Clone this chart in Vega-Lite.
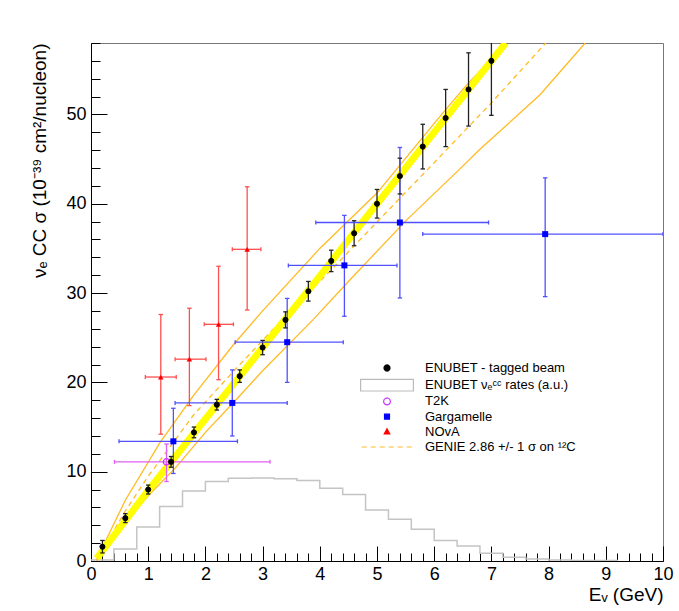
{
  "$schema": "https://vega.github.io/schema/vega-lite/v6.json",
  "width": 572,
  "height": 518,
  "autosize": {"type": "none"},
  "padding": {"left": 91, "top": 43, "right": 16, "bottom": 50},
  "background": "white",
  "config": {"view": {"stroke": "#777777", "strokeWidth": 1}, "font": "Liberation Sans"},
  "resolve": {"axis": {"x": "independent", "y": "independent"}},
  "datasets": {
    "hist": [
      {"x": 0, "y": 0.1}, {"x": 0.4, "y": 1.35}, {"x": 0.8, "y": 3.8}, {"x": 1.2, "y": 6.1},
      {"x": 1.6, "y": 7.85}, {"x": 2.0, "y": 8.9}, {"x": 2.4, "y": 9.27}, {"x": 2.8, "y": 9.3},
      {"x": 3.2, "y": 9.2}, {"x": 3.6, "y": 9.0}, {"x": 4.0, "y": 8.15}, {"x": 4.4, "y": 7.45},
      {"x": 4.8, "y": 5.7}, {"x": 5.2, "y": 4.67}, {"x": 5.6, "y": 3.55}, {"x": 6.0, "y": 2.3},
      {"x": 6.4, "y": 1.68}, {"x": 6.8, "y": 0.86}, {"x": 7.2, "y": 0.41}, {"x": 7.6, "y": 0.22},
      {"x": 8.0, "y": 0.12}, {"x": 8.4, "y": 0.06}, {"x": 8.8, "y": 0.05}, {"x": 9.2, "y": 0}
    ],
    "curves": [
      {"c": "band", "x": 0.1, "y": 0.3}, {"c": "band", "x": 1.0, "y": 7.9}, {"c": "band", "x": 2.0, "y": 15.9},
      {"c": "band", "x": 3.0, "y": 23.9}, {"c": "band", "x": 4.0, "y": 31.9}, {"c": "band", "x": 5.0, "y": 40.0},
      {"c": "band", "x": 6.0, "y": 48.0}, {"c": "band", "x": 7.0, "y": 56.0}, {"c": "band", "x": 7.25, "y": 58.0},
      {"c": "up", "x": 0.1, "y": 0.2}, {"c": "up", "x": 0.6, "y": 6.8}, {"c": "up", "x": 1.2, "y": 13.2},
      {"c": "up", "x": 1.8, "y": 18.6}, {"c": "up", "x": 2.5, "y": 24.3}, {"c": "up", "x": 3.0, "y": 28.0},
      {"c": "up", "x": 4.0, "y": 35.0}, {"c": "up", "x": 5.0, "y": 41.2}, {"c": "up", "x": 6.0, "y": 49.0},
      {"c": "up", "x": 6.5, "y": 52.8}, {"c": "up", "x": 7.25, "y": 58.0},
      {"c": "mid", "x": 0.1, "y": 0.1}, {"c": "mid", "x": 0.6, "y": 5.6}, {"c": "mid", "x": 1.0, "y": 9.5},
      {"c": "mid", "x": 1.8, "y": 16.4}, {"c": "mid", "x": 2.5, "y": 21.3}, {"c": "mid", "x": 3.0, "y": 24.7},
      {"c": "mid", "x": 3.5, "y": 28.1}, {"c": "mid", "x": 4.2, "y": 32.6}, {"c": "mid", "x": 5.05, "y": 38.3},
      {"c": "mid", "x": 6.0, "y": 44.6}, {"c": "mid", "x": 7.0, "y": 51.3}, {"c": "mid", "x": 7.95, "y": 58.0},
      {"c": "lo", "x": 0.1, "y": 0.0}, {"c": "lo", "x": 0.6, "y": 4.2}, {"c": "lo", "x": 1.0, "y": 7.3},
      {"c": "lo", "x": 1.5, "y": 10.6}, {"c": "lo", "x": 2.0, "y": 14.4}, {"c": "lo", "x": 2.5, "y": 17.8},
      {"c": "lo", "x": 3.0, "y": 21.3}, {"c": "lo", "x": 3.88, "y": 27.0}, {"c": "lo", "x": 4.5, "y": 31.3},
      {"c": "lo", "x": 5.52, "y": 38.2}, {"c": "lo", "x": 6.4, "y": 43.6}, {"c": "lo", "x": 6.8, "y": 46.1},
      {"c": "lo", "x": 7.85, "y": 52.2}, {"c": "lo", "x": 8.64, "y": 58.0}
    ],
    "exp": [
      {"s": "ENUBET - tagged beam", "x": 0.2, "y": 1.6, "ylo": 0.9, "yhi": 2.3},
      {"s": "ENUBET - tagged beam", "x": 0.6, "y": 4.8, "ylo": 4.3, "yhi": 5.3},
      {"s": "ENUBET - tagged beam", "x": 1.0, "y": 8.0, "ylo": 7.5, "yhi": 8.5},
      {"s": "ENUBET - tagged beam", "x": 1.4, "y": 11.1, "ylo": 10.5, "yhi": 11.7},
      {"s": "ENUBET - tagged beam", "x": 1.8, "y": 14.4, "ylo": 13.8, "yhi": 15.0},
      {"s": "ENUBET - tagged beam", "x": 2.2, "y": 17.5, "ylo": 16.9, "yhi": 18.1},
      {"s": "ENUBET - tagged beam", "x": 2.6, "y": 20.7, "ylo": 20.0, "yhi": 21.4},
      {"s": "ENUBET - tagged beam", "x": 3.0, "y": 23.9, "ylo": 23.1, "yhi": 24.7},
      {"s": "ENUBET - tagged beam", "x": 3.4, "y": 27.0, "ylo": 26.1, "yhi": 27.9},
      {"s": "ENUBET - tagged beam", "x": 3.8, "y": 30.2, "ylo": 29.1, "yhi": 31.3},
      {"s": "ENUBET - tagged beam", "x": 4.2, "y": 33.6, "ylo": 32.4, "yhi": 34.8},
      {"s": "ENUBET - tagged beam", "x": 4.6, "y": 36.7, "ylo": 35.3, "yhi": 38.1},
      {"s": "ENUBET - tagged beam", "x": 5.0, "y": 40.0, "ylo": 38.4, "yhi": 41.6},
      {"s": "ENUBET - tagged beam", "x": 5.4, "y": 43.1, "ylo": 41.1, "yhi": 45.1},
      {"s": "ENUBET - tagged beam", "x": 5.8, "y": 46.4, "ylo": 43.9, "yhi": 48.9},
      {"s": "ENUBET - tagged beam", "x": 6.2, "y": 49.6, "ylo": 46.4, "yhi": 52.8},
      {"s": "ENUBET - tagged beam", "x": 6.6, "y": 52.8, "ylo": 48.7, "yhi": 56.9},
      {"s": "ENUBET - tagged beam", "x": 7.0, "y": 56.0, "ylo": 49.9, "yhi": 62.1},
      {"s": "Gargamelle", "x": 1.44, "y": 13.4, "xlo": 0.49, "xhi": 2.56, "ylo": 9.8, "yhi": 17.1},
      {"s": "Gargamelle", "x": 2.47, "y": 17.7, "xlo": 1.47, "xhi": 3.43, "ylo": 14.0, "yhi": 21.4},
      {"s": "Gargamelle", "x": 3.43, "y": 24.5, "xlo": 2.52, "xhi": 4.41, "ylo": 20.0, "yhi": 29.4},
      {"s": "Gargamelle", "x": 4.43, "y": 33.1, "xlo": 3.45, "xhi": 5.35, "ylo": 27.4, "yhi": 38.7},
      {"s": "Gargamelle", "x": 5.40, "y": 37.9, "xlo": 3.93, "xhi": 6.95, "ylo": 29.45, "yhi": 46.3},
      {"s": "Gargamelle", "x": 7.94, "y": 36.6, "xlo": 5.8, "xhi": 10.0, "ylo": 29.6, "yhi": 42.9},
      {"s": "NOvA", "x": 1.22, "y": 20.6, "xlo": 0.95, "xhi": 1.49, "ylo": 14.2, "yhi": 27.6},
      {"s": "NOvA", "x": 1.72, "y": 22.6, "xlo": 1.47, "xhi": 2.01, "ylo": 17.4, "yhi": 28.3},
      {"s": "NOvA", "x": 2.23, "y": 26.5, "xlo": 1.98, "xhi": 2.49, "ylo": 20.3, "yhi": 33.0},
      {"s": "NOvA", "x": 2.73, "y": 34.9, "xlo": 2.47, "xhi": 2.97, "ylo": 28.1, "yhi": 41.9},
      {"s": "T2K", "x": 1.32, "y": 11.1, "xlo": 0.41, "xhi": 3.13, "ylo": 8.9, "yhi": 13.1}
    ]
  },
  "layer": [
    {
      "data": {"name": "hist"},
      "mark": {"type": "line", "interpolate": "step-after", "color": "#c4c4c4", "strokeWidth": 1.5, "clip": true},
      "encoding": {
        "x": {
          "field": "x", "type": "quantitative",
          "scale": {"domain": [0, 10], "nice": false, "zero": false},
          "axis": {
            "orient": "bottom", "title": "Eᵥ (GeV)",
            "values": [0, 1, 2, 3, 4, 5, 6, 7, 8, 9, 10], "format": "d",
            "grid": false, "tickSize": -15, "tickColor": "black", "tickWidth": 1,
            "domainColor": "black", "domainWidth": 1,
            "labelPadding": 19, "labelFont": "Liberation Sans", "labelFontSize": 18, "labelColor": "black",
            "labelOverlap": false, "labelFlush": false,
            "titleFont": "Liberation Sans", "titleFontSize": 19, "titleFontWeight": "normal", "titleColor": "black",
            "titleAnchor": "end", "titlePadding": 2
          }
        },
        "y": {
          "field": "y", "type": "quantitative",
          "scale": {"domain": [0, 58], "nice": false, "zero": false},
          "axis": {
            "orient": "left", "title": "νₑ CC σ (10⁻³⁹ cm²/nucleon)",
            "values": [0, 10, 20, 30, 40, 50], "format": "d",
            "grid": false, "tickSize": -16, "tickColor": "black", "tickWidth": 1,
            "domainColor": "black", "domainWidth": 1,
            "labelPadding": 21, "labelFont": "Liberation Sans", "labelFontSize": 18, "labelColor": "black",
            "labelOverlap": false, "labelFlush": false,
            "titleFont": "Liberation Sans", "titleFontSize": 19, "titleFontWeight": "normal", "titleColor": "black",
            "titleAnchor": "end", "titlePadding": 16
          }
        }
      }
    },
    {
      "data": {"name": "curves"},
      "transform": [{"filter": "datum.c == 'up' || datum.c == 'lo'"}],
      "mark": {"type": "line", "color": "#ffbb22", "strokeWidth": 1.3, "clip": true},
      "encoding": {
        "x": {
          "field": "x", "type": "quantitative",
          "axis": {
            "orient": "bottom", "title": null,
            "values": [0.2,0.4,0.6,0.8,1.2,1.4,1.6,1.8,2.2,2.4,2.6,2.8,3.2,3.4,3.6,3.8,4.2,4.4,4.6,4.8,5.2,5.4,5.6,5.8,6.2,6.4,6.6,6.8,7.2,7.4,7.6,7.8,8.2,8.4,8.6,8.8,9.2,9.4,9.6,9.8],
            "labels": false, "domain": false, "grid": false,
            "tickSize": -8, "tickColor": "black", "tickWidth": 1
          }
        },
        "y": {
          "field": "y", "type": "quantitative",
          "axis": {
            "orient": "left", "title": null,
            "values": [2,4,6,8,12,14,16,18,22,24,26,28,32,34,36,38,42,44,46,48,52,54,56,58],
            "labels": false, "domain": false, "grid": false,
            "tickSize": -9, "tickColor": "black", "tickWidth": 1
          }
        },
        "detail": {"field": "c"}
      }
    },
    {
      "data": {"name": "curves"},
      "transform": [{"filter": "datum.c == 'mid'"}],
      "mark": {"type": "line", "color": "#ffbb22", "strokeWidth": 1.3, "strokeDash": [5, 4], "clip": true},
      "encoding": {
        "x": {"field": "x", "type": "quantitative", "axis": null},
        "y": {"field": "y", "type": "quantitative", "axis": null}
      }
    },
    {
      "data": {"name": "curves"},
      "transform": [{"filter": "datum.c == 'band'"}],
      "mark": {"type": "line", "color": "#ffff00", "strokeWidth": 7, "clip": true},
      "encoding": {
        "x": {"field": "x", "type": "quantitative", "axis": null},
        "y": {"field": "y", "type": "quantitative", "axis": null}
      }
    },
    {
      "data": {"name": "exp"},
      "mark": {"type": "rule", "strokeWidth": 1.3, "clip": true},
      "encoding": {
        "x": {"field": "x", "type": "quantitative", "axis": null},
        "y": {"field": "ylo", "type": "quantitative", "axis": null},
        "y2": {"field": "yhi"},
        "color": {"field": "s", "type": "nominal", "scale": {"domain": ["ENUBET - tagged beam", "T2K", "Gargamelle", "NOvA"], "range": ["#222222", "#e060f0", "#5050ff", "#ff5050"]}, "legend": null}
      }
    },
    {
      "data": {"name": "exp"},
      "transform": [{"filter": "datum.s != 'ENUBET - tagged beam'"}],
      "mark": {"type": "rule", "strokeWidth": 1.3, "clip": true},
      "encoding": {
        "y": {"field": "y", "type": "quantitative", "axis": null},
        "x": {"field": "xlo", "type": "quantitative", "axis": null},
        "x2": {"field": "xhi"},
        "color": {"field": "s", "type": "nominal", "legend": null}
      }
    },
    {
      "data": {"name": "exp"},
      "mark": {"type": "point", "shape": "M-1,0H1", "filled": false, "size": 20, "strokeWidth": 1.3, "opacity": 1, "clip": true},
      "encoding": {
        "x": {"field": "x", "type": "quantitative", "axis": null},
        "y": {"field": "ylo", "type": "quantitative", "axis": null},
        "color": {"field": "s", "type": "nominal", "legend": null}
      }
    },
    {
      "data": {"name": "exp"},
      "mark": {"type": "point", "shape": "M-1,0H1", "filled": false, "size": 20, "strokeWidth": 1.3, "opacity": 1, "clip": true},
      "encoding": {
        "x": {"field": "x", "type": "quantitative", "axis": null},
        "y": {"field": "yhi", "type": "quantitative", "axis": null},
        "color": {"field": "s", "type": "nominal", "legend": null}
      }
    },
    {
      "data": {"name": "exp"},
      "transform": [{"filter": "datum.s != 'ENUBET - tagged beam'"}],
      "mark": {"type": "point", "shape": "M0,-1V1", "filled": false, "size": 16, "strokeWidth": 1.3, "opacity": 1, "clip": true},
      "encoding": {
        "x": {"field": "xlo", "type": "quantitative", "axis": null},
        "y": {"field": "y", "type": "quantitative", "axis": null},
        "color": {"field": "s", "type": "nominal", "legend": null}
      }
    },
    {
      "data": {"name": "exp"},
      "transform": [{"filter": "datum.s != 'ENUBET - tagged beam'"}],
      "mark": {"type": "point", "shape": "M0,-1V1", "filled": false, "size": 16, "strokeWidth": 1.3, "opacity": 1, "clip": true},
      "encoding": {
        "x": {"field": "xhi", "type": "quantitative", "axis": null},
        "y": {"field": "y", "type": "quantitative", "axis": null},
        "color": {"field": "s", "type": "nominal", "legend": null}
      }
    },
    {
      "data": {"name": "exp"},
      "transform": [{"filter": "datum.s == 'Gargamelle'"}],
      "mark": {"type": "point", "shape": "square", "filled": true, "color": "#0000ff", "size": 36, "opacity": 1, "clip": true},
      "encoding": {
        "x": {"field": "x", "type": "quantitative", "axis": null},
        "y": {"field": "y", "type": "quantitative", "axis": null}
      }
    },
    {
      "data": {"name": "exp"},
      "transform": [{"filter": "datum.s == 'NOvA'"}],
      "mark": {"type": "point", "shape": "triangle-up", "filled": true, "color": "#ff0000", "size": 30, "opacity": 1, "clip": true},
      "encoding": {
        "x": {"field": "x", "type": "quantitative", "axis": null},
        "y": {"field": "y", "type": "quantitative", "axis": null}
      }
    },
    {
      "data": {"name": "exp"},
      "transform": [{"filter": "datum.s == 'T2K'"}],
      "mark": {"type": "point", "shape": "circle", "filled": false, "color": "#cc33ff", "strokeWidth": 1.3, "size": 40, "opacity": 1, "clip": true},
      "encoding": {
        "x": {"field": "x", "type": "quantitative", "axis": null},
        "y": {"field": "y", "type": "quantitative", "axis": null}
      }
    },
    {
      "data": {"name": "exp"},
      "transform": [{"filter": "datum.s == 'ENUBET - tagged beam'"}],
      "mark": {"type": "point", "shape": "circle", "size": 26, "strokeWidth": 1, "opacity": 1, "clip": true},
      "encoding": {
        "x": {"field": "x", "type": "quantitative", "axis": null},
        "y": {"field": "y", "type": "quantitative", "axis": null},
        "fill": {
          "field": "s", "type": "nominal",
          "scale": {
            "domain": ["ENUBET - tagged beam", "ENUBET νₑᶜᶜ rates (a.u.)", "T2K", "Gargamelle", "NOvA", "GENIE 2.86 +/- 1 σ on ¹²C"],
            "range": ["#000000", "transparent", "transparent", "#0000ff", "#ff0000", "transparent"]
          },
          "legend": {
            "orient": "none", "legendX": 289.5, "legendY": 318.5, "title": null, "padding": 0,
            "labelFont": "Liberation Sans", "labelFontSize": 13, "labelColor": "black", "labelLimit": 400,
            "labelOffset": 31.5, "rowPadding": 1.2, "symbolSize": 121, "symbolStrokeWidth": 1.2, "symbolOpacity": 1,
            "encode": {
              "symbols": {
                "update": {
                  "shape": {"signal": "['M0.55,0L0.476,0.275L0.275,0.476L0,0.55L-0.275,0.476L-0.476,0.275L-0.55,0L-0.476,-0.275L-0.275,-0.476L0,-0.55L0.275,-0.476L0.476,-0.275Z', 'M-4.8,-1.05H4.8V1.05H-4.8Z', 'M0.62,0L0.537,0.31L0.31,0.537L0,0.62L-0.31,0.537L-0.537,0.31L-0.62,0L-0.537,-0.31L-0.31,-0.537L0,-0.62L0.31,-0.537L0.537,-0.31Z', 'M-0.45,-0.45H0.45V0.45H-0.45Z', 'M0,-0.55L0.5,0.4L-0.5,0.4Z', 'M-4.6,0H4.6'][datum.index]"},
                  "strokeDash": {"signal": "datum.index == 5 ? [5, 4] : []"},
                  "opacity": {"value": 1},
                  "size": {"value": 121},
                  "strokeWidth": {"value": 1.2}
                }
              }
            }
          }
        },
        "stroke": {
          "field": "s", "type": "nominal",
          "scale": {
            "domain": ["ENUBET - tagged beam", "ENUBET νₑᶜᶜ rates (a.u.)", "T2K", "Gargamelle", "NOvA", "GENIE 2.86 +/- 1 σ on ¹²C"],
            "range": ["#000000", "#bbbbbb", "#cc33ff", "#0000ff", "#ff0000", "#ffbb22"]
          },
          "legend": {
            "orient": "none", "legendX": 289.5, "legendY": 318.5, "title": null, "padding": 0,
            "labelFont": "Liberation Sans", "labelFontSize": 13, "labelColor": "black", "labelLimit": 400,
            "labelOffset": 31.5, "rowPadding": 1.2, "symbolSize": 121, "symbolStrokeWidth": 1.2, "symbolOpacity": 1,
            "encode": {
              "symbols": {
                "update": {
                  "shape": {"signal": "['M0.55,0L0.476,0.275L0.275,0.476L0,0.55L-0.275,0.476L-0.476,0.275L-0.55,0L-0.476,-0.275L-0.275,-0.476L0,-0.55L0.275,-0.476L0.476,-0.275Z', 'M-4.8,-1.05H4.8V1.05H-4.8Z', 'M0.62,0L0.537,0.31L0.31,0.537L0,0.62L-0.31,0.537L-0.537,0.31L-0.62,0L-0.537,-0.31L-0.31,-0.537L0,-0.62L0.31,-0.537L0.537,-0.31Z', 'M-0.45,-0.45H0.45V0.45H-0.45Z', 'M0,-0.55L0.5,0.4L-0.5,0.4Z', 'M-4.6,0H4.6'][datum.index]"},
                  "strokeDash": {"signal": "datum.index == 5 ? [5, 4] : []"},
                  "opacity": {"value": 1},
                  "size": {"value": 121},
                  "strokeWidth": {"value": 1.2}
                }
              }
            }
          }
        }
      }
    }
  ]
}
